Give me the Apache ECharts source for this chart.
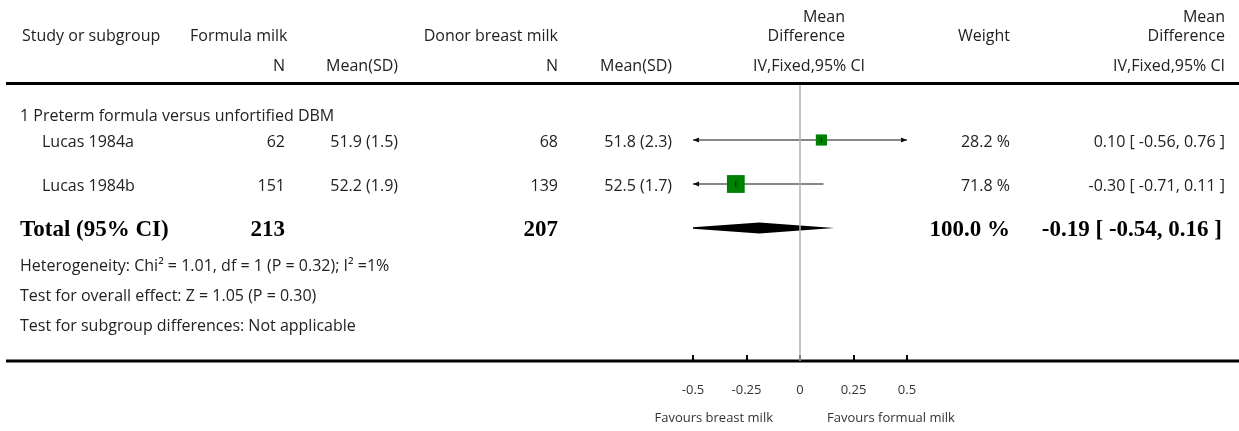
<!DOCTYPE html>
<html>
<head>
<meta charset="utf-8">
<script src="https://cdn.jsdelivr.net/npm/echarts@6/dist/echarts.min.js"></script>
<style>
html, body { margin: 0; padding: 0; background: #fff; }
#main { width: 1239px; height: 431px; }
</style>
</head>
<body>
<div id="main"></div>
<script>
// data
const subgroup = '1 Preterm formula versus unfortified DBM';
const studies = ['Lucas 1984a', 'Lucas 1984b'];
const formulaN = [62, 151];
const formulaMean = [51.9, 52.2];
const formulaSD = [1.5, 1.9];
const donorN = [68, 139];
const donorMean = [51.8, 52.5];
const donorSD = [2.3, 1.7];
const md = [0.10, -0.30];
const ciLow = [-0.56, -0.71];
const ciHigh = [0.76, 0.11];
const weight = [28.2, 71.8];

const totalFormulaN = 213;
const totalDonorN = 207;
const totalMd = -0.19;
const totalLow = -0.54;
const totalHigh = 0.16;
const totalWeight = 100.0;

const notes = [
  'Heterogeneity: Chi\u00b2 = 1.01, df = 1 (P = 0.32); I\u00b2 =1%',
  'Test for overall effect: Z = 1.05 (P = 0.30)',
  'Test for subgroup differences: Not applicable'
];
const xTicks = [-0.5, -0.25, 0, 0.25, 0.5];
const favours = ['Favours breast milk', 'Favours formual milk'];

// layout
const X_MIN = -0.5, X_MAX = 0.5;
const ROW = { sub: 29, studies: [55, 99], total: 143, notes: [179, 209, 239] };
const TEXT_DY = 2;
const COL = { sub: 20, study: 42, fN: 285, fM: 398, dN: 558, dM: 672, w: 1010, md: 1225 };
const FONT = '16px "Open Sans"';
const SMALL = '13px "Open Sans"';
const BOLD = 'bold 23px "Liberation Serif"';
const INK = '#222';

const f2 = v => v.toFixed(2);
const ciText = (m, l, h) => f2(m) + ' [ ' + f2(l) + ', ' + f2(h) + ' ]';

// table rows (text)
const tableRows = [];
tableRows.push({ y: ROW.sub, cells: [{ t: subgroup, x: COL.sub, a: 'left' }] });
studies.forEach((s, i) => {
  tableRows.push({
    y: ROW.studies[i],
    cells: [
      { t: s, x: COL.study, a: 'left' },
      { t: String(formulaN[i]), x: COL.fN, a: 'right' },
      { t: formulaMean[i].toFixed(1) + ' (' + formulaSD[i].toFixed(1) + ')', x: COL.fM, a: 'right' },
      { t: String(donorN[i]), x: COL.dN, a: 'right' },
      { t: donorMean[i].toFixed(1) + ' (' + donorSD[i].toFixed(1) + ')', x: COL.dM, a: 'right' },
      { t: weight[i].toFixed(1) + ' %', x: COL.w, a: 'right' },
      { t: ciText(md[i], ciLow[i], ciHigh[i]), x: COL.md, a: 'right' }
    ]
  });
});
tableRows.push({
  y: ROW.total,
  cells: [
    { t: 'Total (95% CI)', x: COL.sub, a: 'left', b: true },
    { t: String(totalFormulaN), x: COL.fN, a: 'right', b: true },
    { t: String(totalDonorN), x: COL.dN, a: 'right', b: true },
    { t: totalWeight.toFixed(1) + ' %', x: COL.w, a: 'right', b: true },
    { t: ciText(totalMd, totalLow, totalHigh), x: COL.md - 3, a: 'right', b: true }
  ]
});
notes.forEach((n, i) => {
  tableRows.push({ y: ROW.notes[i], cells: [{ t: n, x: COL.sub, a: 'left' }] });
});

function headText(t, x, y, align) {
  return { type: 'text', style: { text: t, x: x, y: y, font: FONT, fill: INK, align: align, verticalAlign: 'middle' } };
}

const chart = echarts.init(document.getElementById('main'));

const option = {
  animation: false,
  grid: { left: 693, width: 214, top: 85, height: 276 },
  xAxis: {
    type: 'value',
    position: 'bottom',
    min: X_MIN,
    max: X_MAX,
    interval: 0.25,
    axisLine: { show: false, onZero: false },
    axisTick: { show: true, inside: true, length: 6, lineStyle: { color: '#000', width: 2 } },
    splitLine: { show: false },
    axisLabel: {
      margin: 23,
      fontFamily: 'Open Sans',
      fontSize: 13,
      color: '#333',
      formatter: v => (xTicks.indexOf(v) >= 0 ? String(v) : '')
    }
  },
  yAxis: { type: 'value', inverse: true, min: 0, max: 276, show: false },
  graphic: [
    headText('Mean', 845, 17, 'right'),
    headText('Mean', COL.md, 17, 'right'),
    headText('Study or subgroup', 22, 36, 'left'),
    headText('Formula milk', 190, 36, 'left'),
    headText('Donor breast milk', COL.dN, 36, 'right'),
    headText('Difference', 845, 36, 'right'),
    headText('Weight', COL.w, 36, 'right'),
    headText('Difference', COL.md, 36, 'right'),
    headText('N', COL.fN, 66, 'right'),
    headText('Mean(SD)', COL.fM, 66, 'right'),
    headText('N', COL.dN, 66, 'right'),
    headText('Mean(SD)', COL.dM, 66, 'right'),
    headText('IV,Fixed,95% CI', 865, 66, 'right'),
    headText('IV,Fixed,95% CI', COL.md, 66, 'right'),
    { type: 'line', shape: { x1: 6, y1: 83.5, x2: 1239, y2: 83.5 }, style: { stroke: '#000', lineWidth: 3 } },
    { type: 'line', shape: { x1: 6, y1: 361, x2: 1239, y2: 361 }, style: { stroke: '#000', lineWidth: 3 } },
    { type: 'text', style: { text: favours[0], x: 773, y: 418, font: SMALL, fill: '#333', align: 'right', verticalAlign: 'middle' } },
    { type: 'text', style: { text: favours[1], x: 827, y: 418, font: SMALL, fill: '#333', align: 'left', verticalAlign: 'middle' } }
  ],
  series: [
    {
      // study confidence intervals and weighted squares
      type: 'custom',
      data: studies.map((s, i) => [ciLow[i], ciHigh[i], md[i], ROW.studies[i], weight[i]]),
      renderItem: function (params, api) {
        const lo = api.value(0), hi = api.value(1), m = api.value(2), w = api.value(4);
        const y = api.coord([0, api.value(3)])[1];
        const xl = api.coord([Math.max(lo, X_MIN), 0])[0];
        const xr = api.coord([Math.min(hi, X_MAX), 0])[0];
        const xm = api.coord([m, 0])[0];
        const side = 21 * Math.sqrt(w / 100);
        const kids = [
          { type: 'line', shape: { x1: xl, y1: y, x2: xr, y2: y }, style: { stroke: '#111', lineWidth: 1.2 } }
        ];
        if (lo < X_MIN) kids.push({ type: 'polygon', shape: { points: [[xl, y], [xl + 6, y - 2.5], [xl + 6, y + 2.5]] }, style: { fill: '#111' } });
        if (hi > X_MAX) kids.push({ type: 'polygon', shape: { points: [[xr, y], [xr - 6, y - 2.5], [xr - 6, y + 2.5]] }, style: { fill: '#111' } });
        kids.push({ type: 'rect', shape: { x: xm - side / 2, y: y - side / 2, width: side, height: side }, style: { fill: '#008000' } });
        kids.push({ type: 'line', shape: { x1: xm, y1: y - 2.5, x2: xm, y2: y + 2.5 }, style: { stroke: '#111', lineWidth: 1 } });
        return { type: 'group', children: kids };
      },
      markLine: {
        silent: true,
        symbol: 'none',
        label: { show: false },
        lineStyle: { color: '#b0b0b0', width: 1.5, type: 'solid' },
        data: [{ xAxis: 0 }]
      },
      z: 3
    },
    {
      // pooled diamond
      type: 'custom',
      data: [[totalLow, totalHigh, totalMd, ROW.total]],
      renderItem: function (params, api) {
        const lo = api.value(0), hi = api.value(1), m = api.value(2);
        const y = api.coord([0, api.value(3)])[1];
        const px = v => api.coord([v, 0])[0];
        const h = 5.5;
        const cl = Math.max(lo, X_MIN), cr = Math.min(hi, X_MAX);
        const hl = h * (cl - lo) / (m - lo);
        const hr = h * (hi - cr) / (hi - m);
        const pts = [[px(cl), y - hl], [px(m), y - h], [px(cr), y - hr], [px(cr), y + hr], [px(m), y + h], [px(cl), y + hl]];
        return { type: 'polygon', shape: { points: pts }, style: { fill: '#000' } };
      },
      z: 3
    },
    {
      // table text
      type: 'custom',
      data: tableRows.map(r => [0, r.y]),
      renderItem: function (params, api) {
        const r = tableRows[params.dataIndex];
        const y = api.coord([0, api.value(1)])[1] + TEXT_DY;
        return {
          type: 'group',
          children: r.cells.map(c => ({
            type: 'text',
            style: {
              text: c.t, x: c.x, y: y,
              font: c.b ? BOLD : FONT,
              fill: c.b ? '#000' : INK,
              align: c.a, verticalAlign: 'middle'
            }
          }))
        };
      },
      z: 4
    }
  ]
};

chart.setOption(option);
</script>
</body>
</html>
